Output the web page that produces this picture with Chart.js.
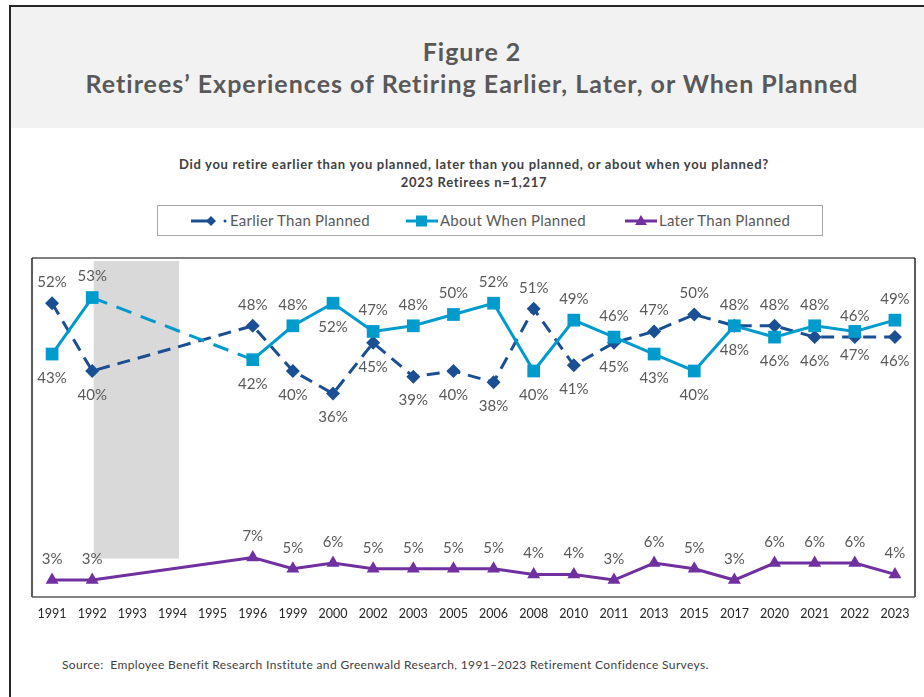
<!DOCTYPE html>
<html>
<head>
<meta charset="utf-8">
<script src="https://cdn.jsdelivr.net/npm/chart.js@4"></script>
<style>
  body { margin: 0; background: #fff; font-family: Lato, "Open Sans", sans-serif; color: #595959; }
  #frame { position: absolute; left: 9px; top: 5px; width: 915px; height: 692px; border-left: 2px solid #262626; border-top: 2px solid #262626; }
  #header { position: absolute; left: 11px; top: 7px; width: 913px; height: 121px; background: #f2f2f2; }
  .title { position: absolute; left: 11px; width: 922px; text-align: center; font-weight: bold; font-size: 25px; letter-spacing: 1px; color: #595959; }
  .sub { position: absolute; left: 11px; width: 926px; text-align: center; font-weight: bold; font-size: 13px; letter-spacing: 0.7px; color: #404040; }
  #legend { position: absolute; left: 157px; top: 205px; width: 664px; height: 29px; border: 1px solid #a6a6a6; }
  .item { position: absolute; top: 0; height: 29px; line-height: 29px; font-size: 15px; letter-spacing: 0.25px; color: #595959; white-space: nowrap; }
  .item svg { position: absolute; top: 8px; }
  .item span { position: absolute; top: 0; }
  #chartWrap { position: absolute; left: 0; top: 240px; }
  #source { position: absolute; left: 62px; top: 657px; font-size: 12px; letter-spacing: 0.35px; color: #404040; }
</style>
</head>
<body>
<div id="frame"></div>
<div id="header"></div>
<div class="title" style="top:36px">Figure 2</div>
<div class="title" style="top:68px">Retirees’ Experiences of Retiring Earlier, Later, or When Planned</div>
<div class="sub" style="top:156px">Did you retire earlier than you planned, later than you planned, or about when you planned?</div>
<div class="sub" style="top:174px">2023 Retirees n=1,217</div>
<div id="legend">
  <div class="item" style="left:33px">
    <svg width="40" height="14"><line x1="0" y1="7" x2="20" y2="7" stroke="#1b4f93" stroke-width="3"/><polygon points="20,2 25,7 20,12 15,7" fill="#1b4f93"/><circle cx="34" cy="7" r="1.5" fill="#1b4f93"/></svg>
    <span style="left:39px">Earlier Than Planned</span>
  </div>
  <div class="item" style="left:248px">
    <svg width="34" height="14"><line x1="0" y1="7" x2="32" y2="7" stroke="#009bcd" stroke-width="3"/><rect x="10" y="1.5" width="11" height="11" fill="#009bcd"/></svg>
    <span style="left:34px">About When Planned</span>
  </div>
  <div class="item" style="left:467px">
    <svg width="34" height="14"><line x1="0" y1="7" x2="32" y2="7" stroke="#7030a0" stroke-width="3"/><polygon points="16,1 22,11 10,11" fill="#7030a0"/></svg>
    <span style="left:34px">Later Than Planned</span>
  </div>
</div>
<div id="chartWrap"><canvas id="retireChart" width="924" height="390"></canvas></div>
<div id="source">Source:&nbsp; Employee Benefit Research Institute and Greenwald Research, 1991–2023 Retirement Confidence Surveys.</div>

<script>
// Survey years (no survey 1993-1995)
var years = ["1991", "1992", "1993", "1994", "1995", "1996", "1999", "2000", "2002", "2003", "2005",
    "2006", "2008", "2010", "2011", "2013", "2015", "2017", "2020", "2021", "2022", "2023"];
var earlier = [52, 40, null, null, null, 48, 40, 36, 45, 39, 40, 38, 51, 41, 45, 47, 50, 48, 48, 46, 46, 46];
var aboutWhen = [43, 53, null, null, null, 42, 48, 52, 47, 48, 50, 52, 40, 49, 46, 43, 40, 48, 46, 48, 47, 49];
var later = [3, 3, null, null, null, 7, 5, 6, 5, 5, 5, 5, 4, 4, 3, 6, 5, 3, 6, 6, 6, 4];

// label placement: a = above, b = below
var earlierPos = "ab...abbbbbbabbaaaabab".split("");
var aboutPos = "ba...babaaaabaabbbbaba".split("");

// Frame around plot area + grey band over the missing years
const plotFrame = {
    id: 'plotFrame',
    beforeDatasetsDraw(chart) {
        const ctx = chart.ctx;
        const a = chart.chartArea;
        const x = chart.scales.x, y = chart.scales.y;
        ctx.save();
        ctx.fillStyle = '#d9d9d9';
        const bx0 = x.getPixelForValue(1) + 1.5;
        const bx1 = x.getPixelForValue(3) + 6.5;
        ctx.fillRect(bx0, a.top + 3, bx1 - bx0, y.getPixelForValue(6.8) - a.top - 3);
        ctx.lineWidth = 2;
        ctx.strokeStyle = '#7f7f7f';
        ctx.beginPath();
        ctx.moveTo(a.left, a.top); ctx.lineTo(a.right, a.top);
        ctx.stroke();
        ctx.strokeStyle = '#262626';
        ctx.lineWidth = 1.5;
        ctx.beginPath();
        ctx.moveTo(a.right, a.top); ctx.lineTo(a.right, a.bottom);
        ctx.moveTo(a.left, a.top); ctx.lineTo(a.left, a.bottom);
        ctx.stroke();
        ctx.strokeStyle = '#595959';
        ctx.beginPath();
        ctx.moveTo(a.left, a.bottom); ctx.lineTo(a.right, a.bottom);
        ctx.stroke();
        ctx.restore();
    }
};

// Percent labels next to points
const pointLabels = {
    id: 'pointLabels',
    afterDatasetsDraw(chart) {
        const ctx = chart.ctx;
        ctx.save();
        ctx.font = '15px Lato';
        ctx.fillStyle = '#595959';
        ctx.textAlign = 'center';
        ctx.textBaseline = 'middle';
        chart.data.datasets.forEach((ds, di) => {
            const meta = chart.getDatasetMeta(di);
            meta.data.forEach((pt, i) => {
                const v = ds.data[i];
                if (v === null) return;
                const pos = ds.labelPos ? ds.labelPos[i] : 'a';
                const dy = pos === 'a' ? -21 : 24;
                ctx.fillText(v + '%', pt.x, pt.y + dy);
            });
        });
        ctx.restore();
    }
};

new Chart("retireChart", {
    type: "line",
    data: {
        labels: years,
        datasets: [{
            label: "Earlier Than Planned",
            data: earlier,
            labelPos: earlierPos,
            borderColor: "#1b4f93",
            backgroundColor: "#1b4f93",
            borderWidth: 3,
            borderDash: [13, 8],
            pointStyle: "rectRot",
            pointRadius: 7,
            pointBorderWidth: 0,
            spanGaps: true,
            order: 2
        }, {
            label: "About When Planned",
            data: aboutWhen,
            labelPos: aboutPos,
            borderColor: "#009bcd",
            backgroundColor: "#009bcd",
            borderWidth: 3,
            pointStyle: "rect",
            pointRadius: 9,
            pointBorderWidth: 0,
            spanGaps: true,
            segment: {
                borderDash: ctx => (ctx.p0.skip || ctx.p1.skip) ? [16, 10] : undefined
            },
            order: 1
        }, {
            label: "Later Than Planned",
            data: later,
            borderColor: "#7030a0",
            backgroundColor: "#7030a0",
            borderWidth: 3,
            pointStyle: "triangle",
            pointRadius: 7.5,
            pointBorderWidth: 0,
            spanGaps: true,
            order: 3
        }]
    },
    options: {
        responsive: false,
        animation: false,
        devicePixelRatio: 1,
        layout: { padding: { left: 32, right: 4, top: 18, bottom: 8 } },
        plugins: {
            legend: { display: false },
            tooltip: { enabled: false }
        },
        scales: {
            x: {
                offset: true,
                grid: { display: false, drawTicks: false },
                border: { display: false },
                ticks: { color: '#262626', font: { family: 'Lato', size: 12.5 }, padding: 9, maxRotation: 0, autoSkip: false },
                afterFit(scale) { scale.height = 25; }
            },
            y: {
                display: false,
                min: 0,
                max: 60
            }
        }
    },
    plugins: [plotFrame, pointLabels]
});
</script>
</body>
</html>
